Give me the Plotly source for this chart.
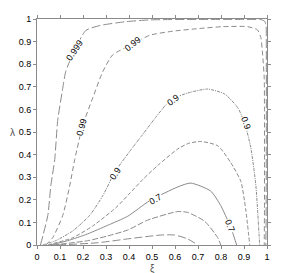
import plotly.graph_objects as go

# Contour curves: (xi, lambda) pairs for each level
g_xi  = [0.015, 0.047, 0.060, 0.077, 0.090, 0.112, 0.125, 0.164, 0.212, 0.273, 0.386, 0.490, 0.700, 0.900, 0.975, 0.990, 0.996, 0.997, 0.997, 0.996, 0.995]
g_lam = [0.000, 0.131, 0.261, 0.378, 0.551, 0.694, 0.768, 0.863, 0.949, 0.971, 0.988, 0.996, 0.998, 0.998, 0.997, 0.990, 0.970, 0.900, 0.500, 0.100, 0.000]

f_xi  = [0.038, 0.068, 0.112, 0.142, 0.164, 0.199, 0.242, 0.286, 0.329, 0.416, 0.490, 0.590, 0.707, 0.807, 0.916, 0.958, 0.973, 0.981, 0.988, 0.989, 0.989, 0.989, 0.988]
f_lam = [0.000, 0.032, 0.131, 0.261, 0.378, 0.529, 0.650, 0.767, 0.841, 0.889, 0.928, 0.946, 0.958, 0.966, 0.966, 0.952, 0.919, 0.841, 0.737, 0.607, 0.378, 0.161, 0.000]

e_xi  = [0.025, 0.081, 0.155, 0.229, 0.286, 0.338, 0.400, 0.460, 0.520, 0.570, 0.620, 0.668, 0.742, 0.816, 0.873, 0.903, 0.929, 0.951, 0.960, 0.968]
e_lam = [0.000, 0.019, 0.062, 0.131, 0.218, 0.322, 0.410, 0.490, 0.570, 0.630, 0.660, 0.676, 0.690, 0.668, 0.607, 0.538, 0.434, 0.270, 0.140, 0.000]

d_xi  = [0.047, 0.155, 0.242, 0.343, 0.400, 0.460, 0.525, 0.612, 0.660, 0.712, 0.786, 0.842, 0.886, 0.907, 0.925]
d_lam = [0.000, 0.032, 0.084, 0.165, 0.225, 0.290, 0.352, 0.425, 0.450, 0.458, 0.439, 0.365, 0.282, 0.161, 0.000]

c_xi  = [0.055, 0.133, 0.220, 0.307, 0.394, 0.490, 0.612, 0.668, 0.755, 0.799, 0.829, 0.851, 0.868]
c_lam = [0.000, 0.019, 0.049, 0.087, 0.127, 0.196, 0.257, 0.274, 0.239, 0.174, 0.109, 0.053, 0.000]

b_xi  = [0.068, 0.220, 0.307, 0.394, 0.481, 0.612, 0.655, 0.729, 0.786, 0.799]
b_lam = [0.000, 0.019, 0.040, 0.066, 0.110, 0.148, 0.144, 0.105, 0.032, 0.000]

a_xi  = [0.090, 0.264, 0.394, 0.538, 0.599, 0.655, 0.699]
a_lam = [0.000, 0.010, 0.027, 0.044, 0.044, 0.027, 0.000]

# Contour labels: text, xi, lambda, angle
lab_text  = ["0.999", "0.99", "0.99", "0.9", "0.9", "0.9", "0.7", "0.7"]
lab_xi    = [0.164, 0.416, 0.195, 0.343, 0.593, 0.907, 0.516, 0.838]
lab_lam   = [0.863, 0.889, 0.521, 0.317, 0.640, 0.538, 0.205, 0.083]
lab_angle = [-56, -38, -75, -56, -37, 70, -30, 68]

curves = [
    ("0.999", g_xi, g_lam, "9px,3px"),
    ("0.99", f_xi, f_lam, "5px,3px"),
    ("0.9", e_xi, e_lam, "3px,1px,1px,1px"),
    ("0.8", d_xi, d_lam, "4px,2px"),
    ("0.7", c_xi, c_lam, "solid"),
    ("0.5", b_xi, b_lam, "6px,2px"),
    ("0.3", a_xi, a_lam, "8px,3px"),
]

fig = go.Figure()
for name, xs, ys, dash in curves:
    fig.add_trace(go.Scatter(x=xs, y=ys, mode="lines", name=name,
                             line=dict(color="#8a8a8a", width=1, dash=dash,
                                       shape="spline", smoothing=0.6),
                             showlegend=False, hoverinfo="skip"))

for t, x, y, a in zip(lab_text, lab_xi, lab_lam, lab_angle):
    fig.add_annotation(x=x, y=y, text=t, textangle=a, showarrow=False,
                       font=dict(family="Liberation Sans, Arial", size=9, color="black"),
                       bgcolor="white", borderpad=0)

fig.add_annotation(x=0.5, y=-0.107, xref="paper", yref="paper", text="ξ",
                   showarrow=False, yanchor="middle",
                   font=dict(family="Liberation Sans, Arial", size=10, color="#555"))
fig.add_annotation(x=-0.105, y=0.5, xref="paper", yref="paper", text="λ",
                   showarrow=False, xanchor="center",
                   font=dict(family="Liberation Sans, Arial", size=10, color="#555"))

axis_style = dict(range=[0, 1], dtick=0.1, tick0=0, showgrid=False, zeroline=False,
                  showline=True, linecolor="#8a8a8a", linewidth=1, mirror="ticks",
                  ticks="outside", ticklen=3, tickcolor="#8a8a8a",
                  tickfont=dict(family="Liberation Sans, Arial", size=9, color="black"))
fig.update_xaxes(**axis_style)
fig.update_yaxes(**axis_style)
fig.update_layout(width=300, height=273, margin=dict(l=29, r=41, t=6, b=36),
                  plot_bgcolor="white", paper_bgcolor="white")

fig.write_html("out.html")
